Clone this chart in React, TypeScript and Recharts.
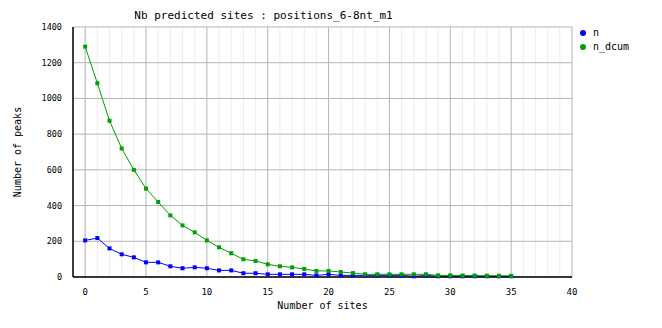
import { LineChart, Line, XAxis, YAxis, CartesianGrid, ReferenceLine } from 'recharts';

const sites = [0, 1, 2, 3, 4, 5, 6, 7, 8, 9, 10, 11, 12, 13, 14, 15, 16, 17, 18, 19, 20, 21, 22, 23, 24, 25, 26, 27, 28, 29, 30, 31, 32, 33, 34, 35];
const nValues = [205, 218, 160, 127, 110, 82, 82, 60, 49, 54, 49, 37, 37, 21, 21, 15, 15, 15, 15, 9, 15, 9, 9, 9, 9, 9, 9, 4, 9, 4, 4, 4, 4, 4, 4, 4];
const nDcumValues = [1290, 1085, 875, 720, 600, 495, 420, 345, 289, 250, 205, 166, 133, 99, 90, 71, 60, 54, 45, 34, 34, 28, 22, 15, 15, 15, 15, 15, 15, 9, 9, 8, 8, 7, 7, 6];
const xTicks = [0, 5, 10, 15, 20, 25, 30, 35, 40];
const xMinor = [-1, 0, 1, 2, 3, 4, 6, 7, 8, 9, 11, 12, 13, 14, 16, 17, 18, 19, 21, 22, 23, 24, 26, 27, 28, 29, 31, 32, 33, 34, 36, 37, 38, 39];
const yTicks = [0, 200, 400, 600, 800, 1000, 1200, 1400];

const seriesColors: Record<string, string> = { n: '#0000ff', n_dcum: '#00a000' };

const data = sites.map((s, i) => ({ site: s, n: nValues[i], n_dcum: nDcumValues[i] }));

const font = '"DejaVu Sans Mono", monospace';

const SquareDot = (props: any) => {
  const { cx, cy, stroke } = props;
  if (cx == null || cy == null) return null;
  return <rect x={cx - 2} y={cy - 2} width={4} height={4} fill={stroke} />;
};

export default function App() {
  return (
    <div style={{ position: 'relative', width: 662, height: 328, background: '#fff' }}>
      <style>{'body{margin:0}'}</style>
      <div
        style={{
          position: 'absolute',
          top: 9,
          left: 3,
          width: 521,
          textAlign: 'center',
          fontFamily: font,
          fontSize: 11,
          color: '#000',
          zIndex: 2,
        }}
      >
        Nb predicted sites : positions_6-8nt_m1
      </div>
      <div
        style={{
          position: 'absolute',
          top: 26,
          left: 579,
          fontFamily: font,
          fontSize: 10,
          color: '#000',
          lineHeight: '14px',
          zIndex: 2,
        }}
      >
        {Object.keys(seriesColors).map((k) => (
          <div key={k} style={{ display: 'flex', alignItems: 'center' }}>
            <svg width={8} height={8} style={{ marginRight: 6 }}>
              <circle cx={4} cy={4} r={3} fill={seriesColors[k]} />
            </svg>
            {k}
          </div>
        ))}
      </div>
      <LineChart width={662} height={328} data={data} margin={{ top: 27, right: 90, left: 0, bottom: 0 }}>
        <CartesianGrid horizontal={false} vertical={false} />
        {xMinor.map((v) => (
          <ReferenceLine key={'m' + v} x={v} stroke="#ececec" strokeWidth={1} />
        ))}
        {xTicks.map((v) => (
          <ReferenceLine key={'M' + v} x={v} stroke="#b4b4b4" strokeWidth={1} />
        ))}
        {yTicks.map((v) => (
          <ReferenceLine key={'y' + v} y={v} stroke="#b4b4b4" strokeWidth={1} />
        ))}
        <XAxis
          dataKey="site"
          type="number"
          domain={[-1, 40]}
          ticks={xTicks}
          interval={0}
          height={51}
          tickLine={false}
          axisLine={{ stroke: '#000', strokeWidth: 1.5 }}
          tick={{ fontSize: 9, fill: '#000', fontFamily: font }}
          tickMargin={6}
          label={{
            value: 'Number of sites',
            position: 'insideBottom',
            offset: 19,
            style: { fontSize: 10, fill: '#000', fontFamily: font },
          }}
        />
        <YAxis
          type="number"
          domain={[0, 1400]}
          ticks={yTicks}
          interval={0}
          width={73}
          tickLine={false}
          axisLine={{ stroke: '#000', strokeWidth: 1.5 }}
          tick={{ fontSize: 8.5, fill: '#000', fontFamily: font }}
          tickMargin={5}
          label={{
            value: 'Number of peaks',
            angle: -90,
            position: 'insideLeft',
            offset: 17,
            style: { fontSize: 10, fill: '#000', fontFamily: font, textAnchor: 'middle' },
          }}
        />
        <Line
          dataKey="n"
          stroke={seriesColors.n}
          strokeWidth={1}
          dot={<SquareDot />}
          activeDot={false}
          isAnimationActive={false}
        />
        <Line
          dataKey="n_dcum"
          stroke={seriesColors.n_dcum}
          strokeWidth={1}
          dot={<SquareDot />}
          activeDot={false}
          isAnimationActive={false}
        />
      </LineChart>
    </div>
  );
}
